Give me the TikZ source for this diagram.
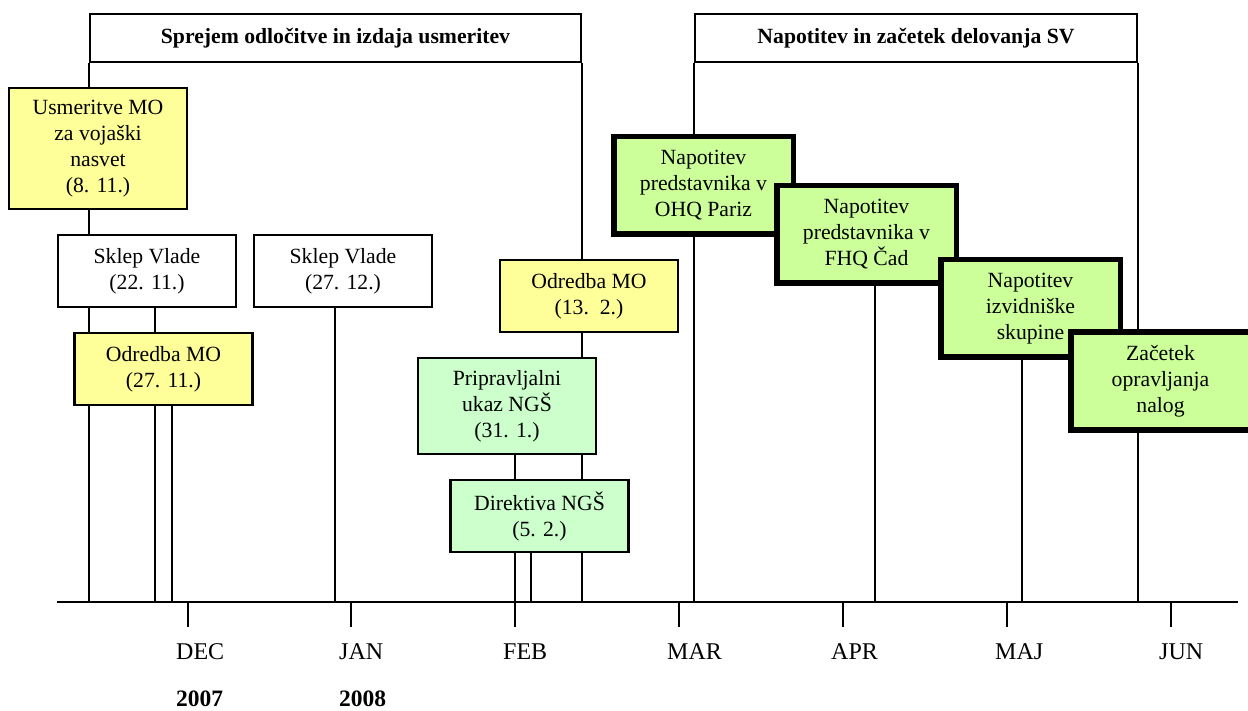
\documentclass[tikz,border=0pt]{standalone}
\usepackage{fontspec}
\setmainfont{Liberation Serif}
\usetikzlibrary{backgrounds}
\definecolor{boxyellow}{HTML}{FFFF99}
\definecolor{boxmint}{HTML}{CCFFCC}
\definecolor{boxlime}{HTML}{CCFF99}
\begin{document}
\begin{tikzpicture}[x=1pt,y=-1pt,
  every node/.style={font=\fontsize{21.7}{26}\selectfont, inner sep=0pt},
  conn/.style={line width=2pt},
  evbox/.style={draw, line width=2.2pt, minimum width=178pt, align=center},
  heavybox/.style={draw, line width=5.5pt, fill=boxlime, minimum width=179.5pt, minimum height=97.5pt, align=center},
  header/.style={draw, line width=2.2pt, font=\fontsize{21.7}{26}\selectfont\bfseries, minimum height=48pt},
  month/.style={anchor=base west, font=\fontsize{24}{28}\selectfont},
  yearlbl/.style={anchor=base west, font=\fontsize{23.5}{28}\selectfont\bfseries}
]
\useasboundingbox (0,0) rectangle (1248,711);
\clip (0,0) rectangle (1248,711);

% headers
\node[header, minimum width=491pt] (h1) at (335.5,38) {Sprejem odločitve in izdaja usmeritev};
\node[header, minimum width=442pt] (h2) at (916,38) {Napotitev in začetek delovanja SV};

% event boxes
\node[evbox, fill=boxyellow, minimum height=121pt] (usm) at (98,148.5) {Usmeritve MO\\za vojaški\\nasvet\\(8. 11.)};
\node[evbox, fill=white, minimum height=72pt] (sk1) at (147,271) {Sklep Vlade\\(22. 11.)};
\node[evbox, fill=white, minimum height=72pt] (sk2) at (343,271) {Sklep Vlade\\(27. 12.)};
\node[evbox, fill=boxyellow, minimum height=72pt] (od1) at (163.5,369) {Odredba MO\\(27. 11.)};
\node[evbox, fill=boxyellow, minimum height=72pt] (od2) at (589,296) {Odredba MO\\(13.\ \ 2.)};
\node[evbox, fill=boxmint, minimum height=96pt] (pri) at (507,406) {Pripravljalni\\ukaz NGŠ\\(31. 1.)};
\node[evbox, fill=boxmint, minimum height=72pt] (dir) at (539.5,516) {Direktiva NGŠ\\(5. 2.)};

\node[heavybox] (ohq) at (703.5,185.5) {Napotitev\\predstavnika v\\OHQ Pariz};
\node[heavybox] (fhq) at (866.5,234.5) {Napotitev\\predstavnika v\\FHQ Čad};
\node[heavybox] (izv) at (1030.5,308.5) {Napotitev\\izvidniške\\skupine};
\node[heavybox] (zac) at (1160.5,381) {Začetek\\opravljanja\\nalog};

% axis coordinates
\coordinate (axL) at (57,602);
\coordinate (axR) at (1238,602);
\coordinate (t2211) at (155,602);
\coordinate (t2711) at (172,602);
\coordinate (t2712) at (335,602);
\coordinate (t3101) at (515,602);
\coordinate (t0502) at (531,602);
\coordinate (tfhq) at (875,602);
\coordinate (tizv) at (1022,602);

\coordinate (mDEC) at (188,602);
\coordinate (mJAN) at (351,602);
\coordinate (mFEB) at (515,602);
\coordinate (mMAR) at (679,602);
\coordinate (mAPR) at (843,602);
\coordinate (mMAJ) at (1007,602);
\coordinate (mJUN) at (1171,602);

\begin{scope}[on background layer]
  \draw[conn] (h1.south west) -- (h1.south west |- axL);
  \draw[conn] (h1.south east) -- (h1.south east |- axL);
  \draw[conn] (h2.south west) -- (h2.south west |- axL);
  \draw[conn] (h2.south east) -- (h2.south east |- axL);
  \draw[conn] (t2211 |- sk1.south) -- (t2211);
  \draw[conn] (t2711 |- od1.south) -- (t2711);
  \draw[conn] (t2712 |- sk2.south) -- (t2712);
  \draw[conn] (t3101 |- pri.south) -- (t3101);
  \draw[conn] (t0502 |- dir.south) -- (t0502);
  \draw[conn] (tfhq |- fhq.south) -- (tfhq);
  \draw[conn] (tizv |- izv.south) -- (tizv);
\end{scope}

% axis and ticks
\draw[line width=2.2pt] (axL) -- (axR);
\foreach \m in {DEC,JAN,FEB,MAR,APR,MAJ,JUN}{
  \draw[conn] (m\m) -- ++(0,25);
}

% month labels
\node[month] (lDEC) at (176,659) {DEC};
\node[month] (lJAN) at (339,659) {JAN};
\node[month] (lFEB) at (503,659) {FEB};
\node[month] (lMAR) at (667,659) {MAR};
\node[month] (lAPR) at (831,659) {APR};
\node[month] (lMAJ) at (995,659) {MAJ};
\node[month] (lJUN) at (1159,659) {JUN};

% years
\node[yearlbl] (y2007) at (176,706) {2007};
\node[yearlbl] (y2008) at (339,706) {2008};
\end{tikzpicture}
\end{document}
